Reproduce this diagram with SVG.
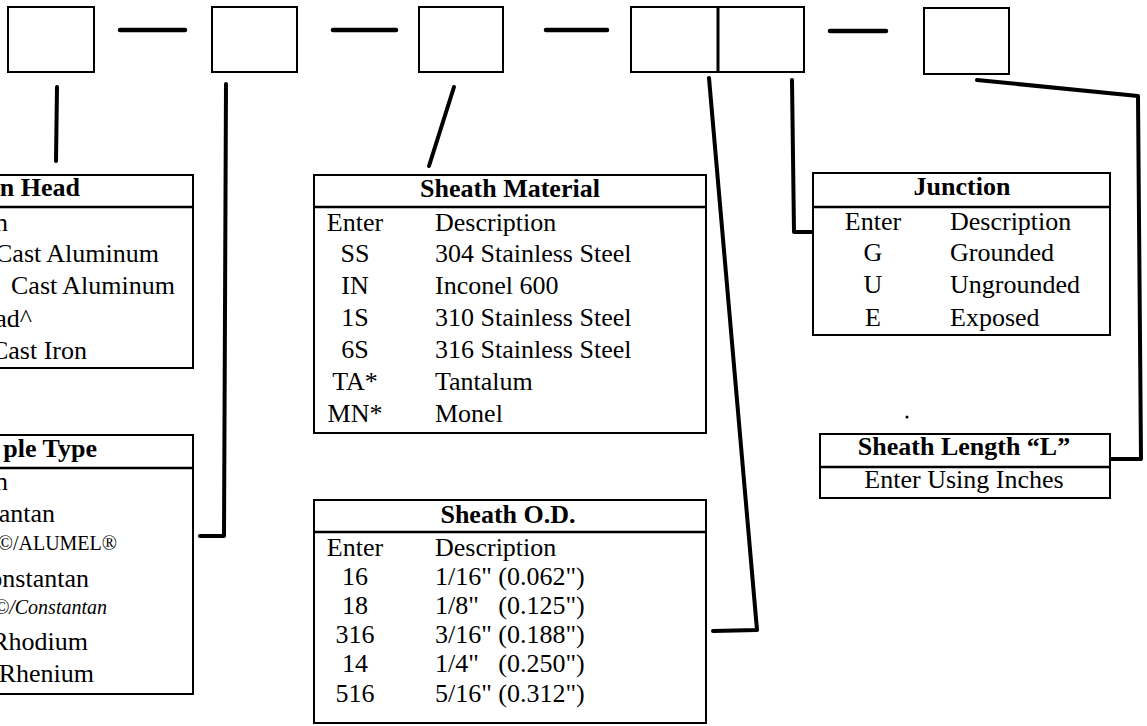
<svg xmlns="http://www.w3.org/2000/svg" width="1147" height="726" viewBox="0 0 1147 726">
<style>
.bx{fill:none;stroke:#000;stroke-width:2}
.tb{fill:#fff;stroke:#000;stroke-width:2}
.hl{stroke:#000;stroke-width:2.5}
.cn{fill:none;stroke:#000;stroke-width:4;stroke-linecap:round;stroke-linejoin:round}
.dash{stroke:#000;stroke-width:4.5;stroke-linecap:round}
text{font-family:"Liberation Serif","Times New Roman",serif;font-size:26px;fill:#000;white-space:pre}
.h{font-weight:bold}
.m{text-anchor:middle}
.e{text-anchor:end}
.sm{font-size:20px}
.it{font-style:italic}
</style>
<rect width="1147" height="726" fill="#fff"/>
<g id="code-boxes">
<rect class="bx" x="8" y="7" width="86" height="65"/>
<rect class="bx" x="212" y="7" width="85" height="65"/>
<rect class="bx" x="419" y="7" width="84" height="65"/>
<rect class="bx" x="631" y="7" width="173" height="65"/>
<line x1="718" y1="7" x2="718" y2="72" stroke="#000" stroke-width="3"/>
<rect class="bx" x="924" y="8" width="85" height="66"/>
<line class="dash" x1="120" y1="30" x2="185" y2="30"/>
<line class="dash" x1="333" y1="30" x2="396" y2="30"/>
<line class="dash" x1="546" y1="30" x2="607" y2="30"/>
<line class="dash" x1="830" y1="31" x2="886" y2="31"/>
</g>
<g id="connectors">
<path class="cn" d="M57,87 L56,161"/>
<path class="cn" d="M226,84 L224,536 L200,536"/>
<path class="cn" d="M454,87 L429,166"/>
<path class="cn" d="M709,78 L757,630 L713,631"/>
<path class="cn" d="M792,80 L794,232 L813,232"/>
<path class="cn" d="M977,80 L1138,96 L1141,459 L1110,459"/>
</g>
<g id="connection-head">
<rect class="tb" x="-10" y="175" width="203" height="193"/>
<line class="hl" x1="-10" y1="207" x2="193" y2="207"/>
<text class="h e" x="80" y="196">n Head</text>
<text class="e" x="8" y="231">n</text>
<text class="e" x="159" y="262">Cast Aluminum</text>
<text class="e" x="175" y="294">Cast Aluminum</text>
<text class="e" x="32" y="327">ad^</text>
<text class="e" x="87" y="359">Cast Iron</text>
</g>
<g id="thermocouple-type">
<rect class="tb" x="-10" y="435" width="203" height="259"/>
<line class="hl" x1="-10" y1="468" x2="193" y2="468"/>
<text class="h e" x="97" y="457">ple Type</text>
<text class="e" x="8" y="490">n</text>
<text class="e" x="55" y="522">antan</text>
<text class="e sm" x="117" y="550">©/ALUMEL®</text>
<text class="e" x="89" y="587">onstantan</text>
<text class="e sm it" x="107" y="614">©/Constantan</text>
<text class="e" x="88" y="650">Rhodium</text>
<text class="e" x="94" y="682">Rhenium</text>
</g>
<g id="sheath-material">
<rect class="tb" x="314" y="175" width="392" height="258"/>
<line class="hl" x1="314" y1="207" x2="706" y2="207"/>
<text class="h m" x="510" y="197">Sheath Material</text>
<text class="m" x="355" y="231">Enter</text>
<text x="435" y="231">Description</text>
<text class="m" x="355" y="262">SS</text>
<text x="435" y="262">304 Stainless Steel</text>
<text class="m" x="355" y="294">IN</text>
<text x="435" y="294">Inconel 600</text>
<text class="m" x="355" y="326">1S</text>
<text x="435" y="326">310 Stainless Steel</text>
<text class="m" x="355" y="358">6S</text>
<text x="435" y="358">316 Stainless Steel</text>
<text class="m" x="355" y="390">TA*</text>
<text x="435" y="390">Tantalum</text>
<text class="m" x="355" y="422">MN*</text>
<text x="435" y="422">Monel</text>
</g>
<g id="sheath-od">
<rect class="tb" x="314" y="500" width="392" height="223"/>
<line class="hl" x1="314" y1="532" x2="706" y2="532"/>
<text class="h m" x="508" y="523">Sheath O.D.</text>
<text class="m" x="355" y="556">Enter</text>
<text x="435" y="556">Description</text>
<text class="m" x="355" y="585">16</text>
<text x="435" y="585">1/16" (0.062")</text>
<text class="m" x="355" y="614">18</text>
<text x="435" y="614">1/8"   (0.125")</text>
<text class="m" x="355" y="643">316</text>
<text x="435" y="643">3/16" (0.188")</text>
<text class="m" x="355" y="672">14</text>
<text x="435" y="672">1/4"   (0.250")</text>
<text class="m" x="355" y="702">516</text>
<text x="435" y="702">5/16" (0.312")</text>
</g>
<g id="junction">
<rect class="tb" x="813" y="173" width="297" height="162"/>
<line class="hl" x1="813" y1="207" x2="1110" y2="207"/>
<text class="h m" x="962" y="195">Junction</text>
<text class="m" x="873" y="230">Enter</text>
<text x="950" y="230">Description</text>
<text class="m" x="873" y="261">G</text>
<text x="950" y="261">Grounded</text>
<text class="m" x="873" y="293">U</text>
<text x="950" y="293">Ungrounded</text>
<text class="m" x="873" y="326">E</text>
<text x="950" y="326">Exposed</text>
</g>
<g id="sheath-length">
<rect class="tb" x="820" y="434" width="290" height="64"/>
<line class="hl" x1="820" y1="467" x2="1110" y2="467"/>
<text class="h m" x="964" y="455">Sheath Length “L”</text>
<text class="m" x="964" y="488">Enter Using Inches</text>
<circle cx="907" cy="417" r="1.5" fill="#000"/>
</g>
</svg>
